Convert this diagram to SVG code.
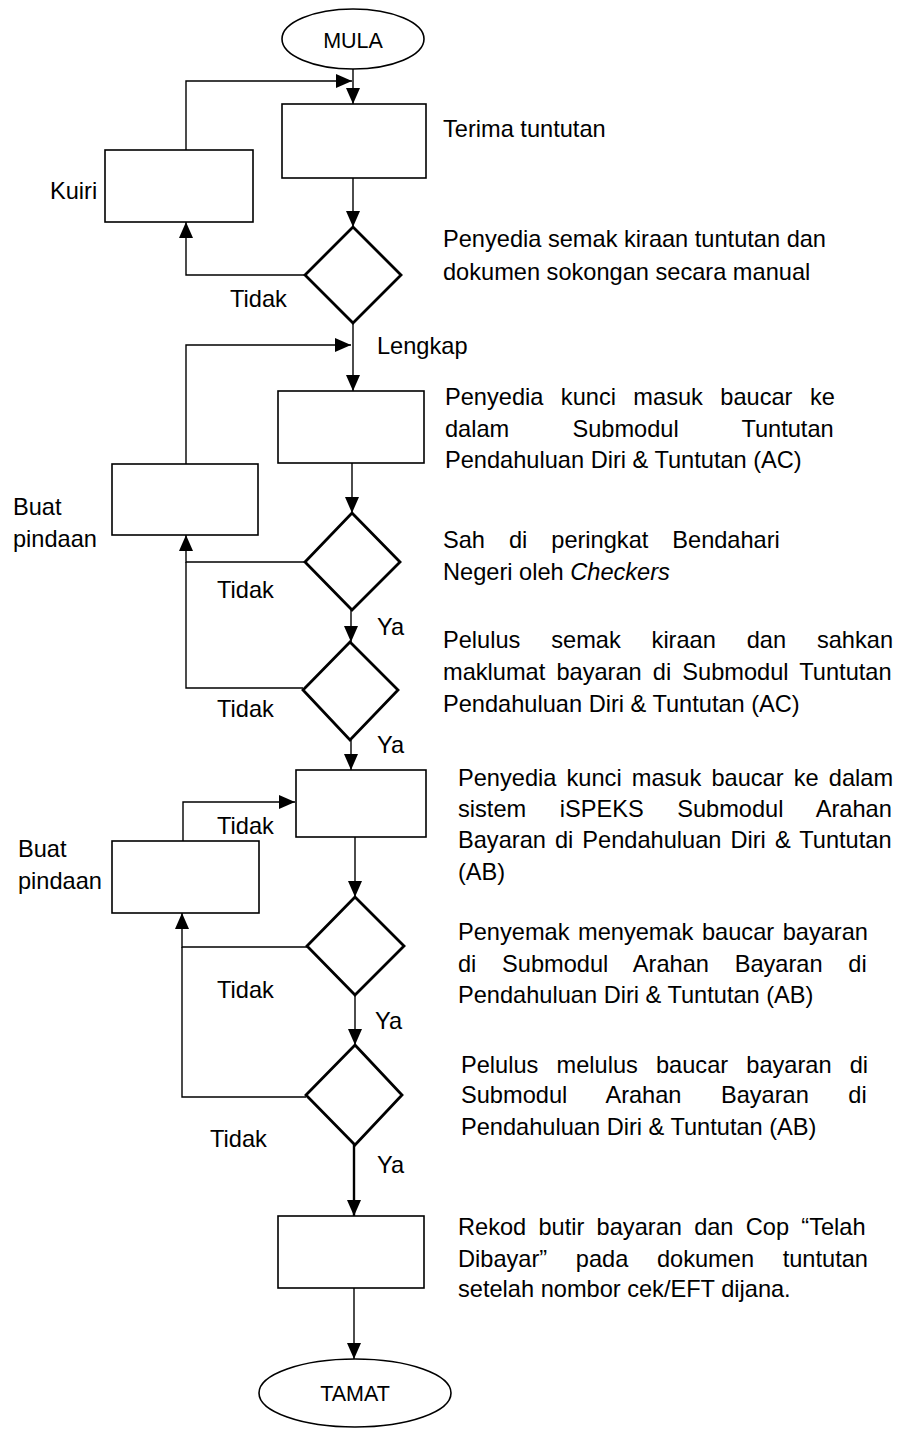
<svg xmlns="http://www.w3.org/2000/svg" width="900" height="1429" viewBox="0 0 900 1429">
<style>
text{font-family:"Liberation Sans",Arial,sans-serif;font-size:23.6px;fill:#000}
.t{font-size:21.5px}
.box{fill:#fff;stroke:#000;stroke-width:1.6}
.dia{fill:#fff;stroke:#000;stroke-width:2.8}
.ell{fill:#fff;stroke:#000;stroke-width:1.6}
.c{fill:none;stroke:#000;stroke-width:1.4}
.ck{fill:none;stroke:#000;stroke-width:2.4}
</style>
<defs>
<marker id="ah" markerWidth="16" markerHeight="14" refX="16" refY="7" orient="auto" markerUnits="userSpaceOnUse"><path d="M0,0 L16,7 L0,14 z" fill="#000"/></marker>
</defs>
<g id="connectors">
<path class="c" d="M353,69 V104" marker-end="url(#ah)"/>
<path class="c" d="M186,150 V81 H352" marker-end="url(#ah)"/>
<path class="c" d="M353,178 V227" marker-end="url(#ah)"/>
<path class="c" d="M305,275 H186 V222" marker-end="url(#ah)"/>
<path class="c" d="M353,323 V391" marker-end="url(#ah)"/>
<path class="c" d="M186,464 V345 H351" marker-end="url(#ah)"/>
<path class="c" d="M352,463 V513" marker-end="url(#ah)"/>
<path class="c" d="M305,562 H186 V535" marker-end="url(#ah)"/>
<path class="c" d="M303,688 H186 V562"/>
<path class="c" d="M351,610 V642" marker-end="url(#ah)"/>
<path class="c" d="M351,740 V770" marker-end="url(#ah)"/>
<path class="c" d="M183,841 V802 H295" marker-end="url(#ah)"/>
<path class="c" d="M355,837 V897" marker-end="url(#ah)"/>
<path class="c" d="M307,947 H182 V913" marker-end="url(#ah)"/>
<path class="c" d="M306,1097 H182 V947"/>
<path class="c" d="M355,995 V1045" marker-end="url(#ah)"/>
<path class="ck" d="M354,1143 V1216" marker-end="url(#ah)"/>
<path class="c" d="M354,1288 V1359" marker-end="url(#ah)"/>
<text x="230" y="307">Tidak</text>
<text x="377" y="354">Lengkap</text>
<text x="217" y="598">Tidak</text>
<text x="377" y="635">Ya</text>
<text x="217" y="717">Tidak</text>
<text x="377" y="753">Ya</text>
<text x="217" y="834">Tidak</text>
<text x="217" y="998">Tidak</text>
<text x="375" y="1029">Ya</text>
<text x="210" y="1147">Tidak</text>
<text x="377" y="1173">Ya</text>
</g>
<g id="mula">
<ellipse class="ell" cx="353" cy="39" rx="71" ry="30"/>
<text class="t" x="353" y="48" text-anchor="middle">MULA</text>
</g>
<g id="terima">
<rect class="box" x="282" y="104" width="144" height="74"/>
<text x="443" y="137">Terima tuntutan</text>
</g>
<g id="kuiri">
<rect class="box" x="105" y="150" width="148" height="72"/>
<text x="50" y="199">Kuiri</text>
</g>
<g id="semak1">
<polygon class="dia" points="353,227 401,275 353,323 305,275"/>
<text x="443" y="247">Penyedia semak kiraan tuntutan dan</text>
<text x="443" y="280">dokumen sokongan secara manual</text>
</g>
<g id="kunci1">
<rect class="box" x="278" y="391" width="146" height="72"/>
<text x="445" y="405" word-spacing="10.9">Penyedia kunci masuk baucar ke</text>
<text x="445" y="437" word-spacing="56.6">dalam Submodul Tuntutan</text>
<text x="445" y="468">Pendahuluan Diri &amp; Tuntutan (AC)</text>
</g>
<g id="pindaan1">
<rect class="box" x="112" y="464" width="146" height="71"/>
<text x="13" y="515">Buat</text>
<text x="13" y="547">pindaan</text>
</g>
<g id="sah">
<polygon class="dia" points="352,513 400,562 352,610 305,562"/>
<text x="443" y="548" word-spacing="17.4">Sah di peringkat Bendahari</text>
<text x="443" y="580">Negeri oleh <tspan font-style="italic">Checkers</tspan></text>
</g>
<g id="pelulus1">
<polygon class="dia" points="350,642 398,690 350,740 303,690"/>
<text x="443" y="648" word-spacing="24.3">Pelulus semak kiraan dan sahkan</text>
<text x="443" y="680" word-spacing="4.6">maklumat bayaran di Submodul Tuntutan</text>
<text x="443" y="712">Pendahuluan Diri &amp; Tuntutan (AC)</text>
</g>
<g id="kunci2">
<rect class="box" x="296" y="770" width="130" height="67"/>
<text x="458" y="786" word-spacing="3.6">Penyedia kunci masuk baucar ke dalam</text>
<text x="458" y="817" word-spacing="27">sistem iSPEKS Submodul Arahan</text>
<text x="458" y="848" word-spacing="2.5">Bayaran di Pendahuluan Diri &amp; Tuntutan</text>
<text x="458" y="880">(AB)</text>
</g>
<g id="pindaan2">
<rect class="box" x="112" y="841" width="147" height="72"/>
<text x="18" y="857">Buat</text>
<text x="18" y="889">pindaan</text>
</g>
<g id="penyemak">
<polygon class="dia" points="355,897 404,946 355,995 307,946"/>
<text x="458" y="940" word-spacing="2">Penyemak menyemak baucar bayaran</text>
<text x="458" y="972" word-spacing="19.2">di Submodul Arahan Bayaran di</text>
<text x="458" y="1003">Pendahuluan Diri &amp; Tuntutan (AB)</text>
</g>
<g id="pelulus2">
<polygon class="dia" points="355,1045 402,1095 355,1145 306,1095"/>
<text x="461" y="1073" word-spacing="11.6">Pelulus melulus baucar bayaran di</text>
<text x="461" y="1103" word-spacing="32.9">Submodul Arahan Bayaran di</text>
<text x="461" y="1135">Pendahuluan Diri &amp; Tuntutan (AB)</text>
</g>
<g id="rekod">
<rect class="box" x="278" y="1216" width="146" height="72"/>
<text x="458" y="1235" word-spacing="5.7">Rekod butir bayaran dan Cop “Telah</text>
<text x="458" y="1267" word-spacing="22.1">Dibayar” pada dokumen tuntutan</text>
<text x="458" y="1297">setelah nombor cek/EFT dijana.</text>
</g>
<g id="tamat">
<ellipse class="ell" cx="355" cy="1393" rx="96" ry="34"/>
<text class="t" x="355" y="1401" text-anchor="middle">TAMAT</text>
</g>
</svg>
